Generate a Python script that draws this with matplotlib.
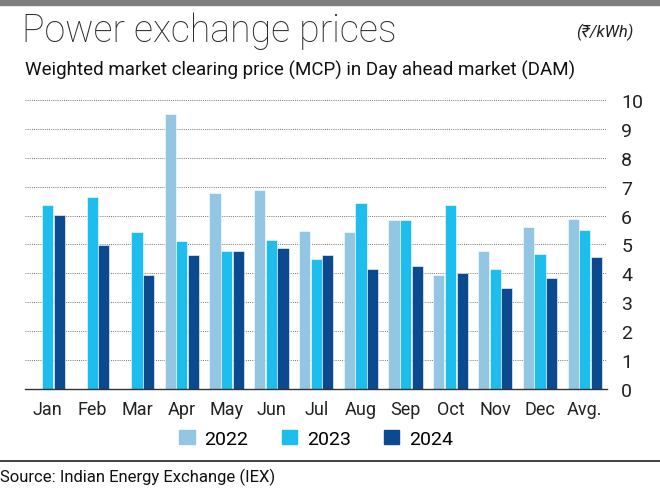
import numpy as np
import matplotlib.pyplot as plt
from matplotlib.lines import Line2D
from matplotlib.patches import Rectangle

plt.rcParams['font.family'] = ['Roboto', 'DejaVu Sans']

months = ['Jan', 'Feb', 'Mar', 'Apr', 'May', 'Jun', 'Jul', 'Aug', 'Sep', 'Oct', 'Nov', 'Dec', 'Avg.']
mcp_2022 = [np.nan, np.nan, np.nan, 9.50, 6.79, 6.87, 5.48, 5.42, 5.86, 3.96, 4.78, 5.59, 5.89]
mcp_2023 = [6.37, 6.63, 5.42, 5.12, 4.76, 5.14, 4.51, 6.42, 5.86, 6.36, 4.15, 4.68, 5.51]
mcp_2024 = [6.02, 4.99, 3.96, 4.65, 4.78, 4.89, 4.64, 4.14, 4.27, 4.03, 3.51, 3.85, 4.58]
years = ['2022', '2023', '2024']
colors = ['#92c6e2', '#1dbdee', '#0b4a8e']

fig = plt.figure(figsize=(6.6, 4.89), dpi=100)
ax = fig.add_axes([0.038, 0.2025, 0.882, 0.591])

x = np.arange(len(months))
w = 0.25
for i, (vals, c) in enumerate(zip([mcp_2022, mcp_2023, mcp_2024], colors)):
    ax.bar(x + (i - 1) * 0.26, vals, width=w, color=c, edgecolor='white', linewidth=0.4, zorder=3)

ax.set_xlim(-0.5, 12.5)
ax.set_ylim(0, 10)
ax.set_yticks(range(0, 11))
ax.yaxis.tick_right()
ax.tick_params(axis='y', length=0, labelsize=14, pad=10, colors='#222222')
ax.set_xticks(x)
ax.set_xticklabels(months)
ax.tick_params(axis='x', length=0, labelsize=13, pad=8, colors='#222222')
ax.grid(axis='y', linestyle=(0, (1, 1.2)), color='#777777', linewidth=0.7, zorder=0)
for s in ['top', 'right', 'left']:
    ax.spines[s].set_visible(False)
ax.spines['bottom'].set_color('#333333')
ax.spines['bottom'].set_linewidth(1.0)
ax.spines['bottom'].set_zorder(4)

# header / footer
fig.patches.append(Rectangle((0, 1 - 6 / 489), 1, 6 / 489, transform=fig.transFigure,
                             color='#7f7f7f', zorder=0))
fig.text(0.033, 0.914, 'Power exchange prices', fontsize=27, weight='light',
         color='#2a2a2a', va='baseline')
fig.text(0.96, 0.924, '(₹/kWh)', fontsize=12, style='italic', ha='right', va='baseline',
         color='#222222', family=['Roboto', 'DejaVu Sans'])
fig.text(0.038, 0.846, 'Weighted market clearing price (MCP) in Day ahead market (DAM)',
         fontsize=13.5, va='baseline', color='#111111')

handles = [Rectangle((0, 0), 1, 1, color=c) for c in colors]
fig.legend(handles, years, loc='center', bbox_to_anchor=(0.479, 0.101), ncol=3, frameon=False,
           fontsize=14, handlelength=0.8, handleheight=0.8, handletextpad=0.5, columnspacing=1.7)

fig.add_artist(Line2D([0, 1], [1 - 462 / 489] * 2, transform=fig.transFigure,
                      color='#333333', linewidth=1.3))
fig.text(0.0, 0.013, 'Source: Indian Energy Exchange (IEX)', fontsize=12, va='baseline',
         color='#111111')

fig.savefig('out.png', dpi=100)
